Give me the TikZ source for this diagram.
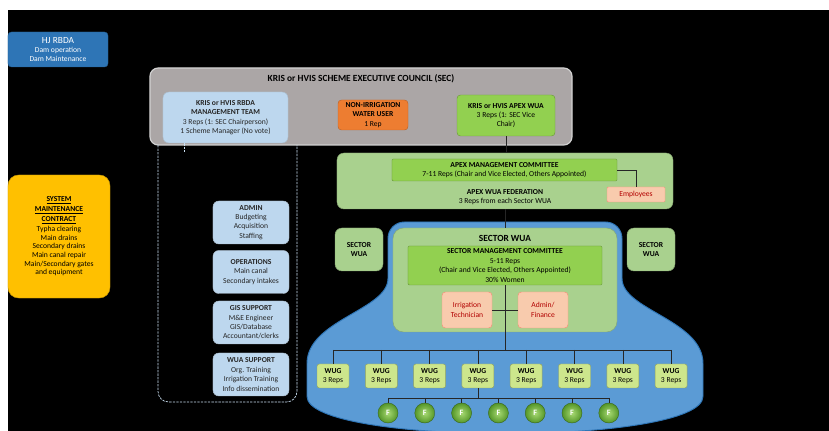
\documentclass[tikz,border=0pt]{standalone}
\usepackage{fontspec}
\setmainfont{Carlito}
\usepackage{tikz}
\usetikzlibrary{positioning, calc}
\definecolor{hjblue}{RGB}{46,117,182}
\definecolor{secgray}{RGB}{171,166,166}
\definecolor{teamblue}{RGB}{189,215,238}
\definecolor{userorange}{RGB}{237,125,49}
\definecolor{wuagreen}{RGB}{146,208,80}
\definecolor{fedgreen}{RGB}{169,209,142}
\definecolor{staffpink}{RGB}{248,203,173}
\definecolor{contractyellow}{RGB}{255,192,0}
\definecolor{basinblue}{RGB}{91,155,213}
\definecolor{wuggreen}{RGB}{205,230,140}
\definecolor{farmgreen}{RGB}{84,150,40}

\begin{document}
\begin{tikzpicture}[x=0.03cm, y=-0.03cm,
    every node/.style={font=\fontsize{6.5}{8}\selectfont, align=center, inner sep=1pt},
    box/.style={draw, rounded corners=3pt, line width=0.4pt},
    teambox/.style={box, fill=teamblue, draw=teamblue!70!gray, rounded corners=5pt, text=black!85},
    greenbox/.style={box, fill=fedgreen, draw=fedgreen!80!black, rounded corners=6pt},
    pinkbox/.style={box, fill=staffpink, draw=staffpink!70!red, rounded corners=1pt, text=red!70!black},
    dashreg/.style={teamblue!80, line width=0.6pt, dash pattern=on 2pt off 1pt},
    link/.style={black!85, line width=0.5pt}]

% background
\fill[white] (0,0) rectangle (829,431);
\fill[black] (8,10) rectangle (829,431);
\useasboundingbox (0,0) rectangle (829,431);

% HJ RBDA
\node[box, fill=hjblue, draw=hjblue!80!black, text=white, minimum width=3cm, minimum height=1.05cm] (hj) at (58,49.5)
    {{\fontsize{8}{9}\selectfont HJ RBDA}\\Dam operation\\Dam Maintenance};

% Scheme executive council
\node[box, fill=secgray, draw=gray!35, line width=1pt, rounded corners=7pt, minimum width=12.66cm, minimum height=2.31cm] (sec) at (361,106.5) {};
\node[font=\bfseries\fontsize{8}{9}\selectfont] (sectitle) at (361,79) {KRIS or HVIS SCHEME EXECUTIVE COUNCIL (SEC)};
\node[teambox, minimum width=3.75cm, minimum height=1.53cm] (team) at (225.5,117.5)
    {\textbf{KRIS or HVIS RBDA}\\\textbf{MANAGEMENT TEAM}\\3 Reps (1: SEC Chairperson)\\1 Scheme Manager (No vote)};
\node[box, fill=userorange, draw=userorange!80!black, minimum width=2.1cm, minimum height=0.9cm] (nonirr) at (373,115)
    {\textbf{NON-IRRIGATION}\\\textbf{WATER USER}\\1 Rep};
\node[box, fill=wuagreen, draw=wuagreen!75!black, minimum width=2.94cm, minimum height=1.23cm] (apexwua) at (506,115.5)
    {\textbf{KRIS or HVIS APEX WUA}\\3 Reps (1: SEC Vice\\Chair)};

% RBDA units
\coordinate (teamtap) at (184,152);
\draw[dashreg] (team.south -| teamtap) -- (teamtap);
\draw[dashreg, rounded corners=9pt] (158,145) -- (158,402) -- (297,402) -- (297,145);
\node[teambox, minimum width=2.28cm, minimum height=1.29cm] (admin) at (251,222.5)
    {\textbf{ADMIN}\\Budgeting\\Acquisition\\Staffing};
\node[teambox, minimum width=2.28cm, minimum height=1.29cm] (ops) at (251,272)
    {\textbf{OPERATIONS}\\Main canal\\Secondary intakes};
\node[teambox, minimum width=2.28cm, minimum height=1.29cm] (gis) at (251,322.5)
    {\textbf{GIS SUPPORT}\\M\&E Engineer\\GIS/Database\\Accountant/clerks};
\node[teambox, minimum width=2.28cm, minimum height=1.29cm] (wuasup) at (251,374.5)
    {\textbf{WUA SUPPORT}\\Org. Training\\Irrigation Training\\Info dissemination};

% maintenance contract
\node[box, fill=contractyellow, draw=contractyellow!80!black, rounded corners=9pt, minimum width=3.06cm, minimum height=3.69cm,
    font=\fontsize{6.5}{7.4}\selectfont] (contract) at (59,236.5)
    {\textbf{\underline{SYSTEM}}\\[1pt]\textbf{\underline{MAINTENANCE}}\\[1pt]\textbf{\underline{CONTRACT}}\\[1pt]Typha clearing\\Main drains\\Secondary drains\\Main canal repair\\Main/Secondary gates\\and equipment};

% Apex federation
\node[greenbox, minimum width=10.08cm, minimum height=1.68cm] (fed) at (505,181) {};
\node[box, fill=wuagreen, draw=wuagreen!70!black, rounded corners=1pt, minimum width=6.75cm, minimum height=0.66cm] (apexcom) at (504.5,170)
    {\textbf{APEX MANAGEMENT COMMITTEE}\\7-11 Reps (Chair and Vice Elected, Others Appointed)};
\node (fedtitle) at (505,197) {\textbf{APEX WUA FEDERATION}\\3 Reps from each Sector WUA};
\node[pinkbox, minimum width=1.74cm, minimum height=0.45cm] (staff) at (636,194.5) {Employees};

% sector area
\filldraw[fill=basinblue, draw=hjblue, line width=0.8pt, rounded corners=14pt]
    (388,262) -- (388,222) -- (622,222) -- (622,262)
    .. controls (622,310) and (703,320) .. (703,380)
    .. controls (703,446) and (307,446) .. (307,380)
    .. controls (307,320) and (388,310) .. (388,262) -- cycle;
\node[greenbox, minimum width=1.44cm, minimum height=1.29cm] (sectorw) at (359,249.5) {\textbf{SECTOR}\\\textbf{WUA}};
\node[greenbox, minimum width=1.44cm, minimum height=1.29cm] (sectore) at (651,249.5) {\textbf{SECTOR}\\\textbf{WUA}};
\node[greenbox, rounded corners=9pt, minimum width=6.72cm, minimum height=3.12cm] (sector) at (505,280) {};
\node[font=\bfseries\fontsize{8}{9}\selectfont] (sectortitle) at (505,238) {SECTOR WUA};
\node[box, fill=wuagreen, draw=wuagreen!70!black, rounded corners=1pt, minimum width=5.82cm, minimum height=1.17cm] (sectorcom) at (505,265.5)
    {\textbf{SECTOR MANAGEMENT COMMITTEE}\\5-11 Reps\\(Chair and Vice Elected, Others Appointed)\\30\% Women};
\node[pinkbox, rounded corners=3pt, minimum width=1.5cm, minimum height=1.08cm] (tech) at (467,310) {Irrigation\\Technician};
\node[pinkbox, rounded corners=3pt, minimum width=1.5cm, minimum height=1.08cm] (finance) at (543,310) {Admin/\\Finance};

% water user groups and farmers
\foreach \i in {1,...,8} {
    \pgfmathsetmacro{\xpos}{333+48.3*(\i-1)}
    \node[box, fill=wuggreen, draw=wuggreen!70!black, rounded corners=2pt, minimum width=0.96cm, minimum height=0.72cm] (wug\i) at (\xpos,376)
        {\textbf{WUG}\\3 Reps};
}
\foreach \i in {1,...,7} {
    \pgfmathsetmacro{\xpos}{388+36.8*(\i-1)}
    \node[circle, draw=farmgreen!70!black, inner color=wuagreen!80!white, outer color=farmgreen, text=white,
        minimum size=0.6cm, font=\bfseries\fontsize{7}{8}\selectfont] (farm\i) at (\xpos,413) {F};
}

% connections
\draw[link] (apexwua.south) -- (fed.north -| apexwua.south);
\draw[link] (apexcom.east) -| (staff.north);
\draw[link] (fed.south) -- (sector.north);
\draw[link] (tech.east) -- (finance.west);
\coordinate (wugbus) at (505,350);
\draw[link] (sectorcom.south) -- (wugbus);
\draw[link] (wugbus -| wug1) -- (wugbus -| wug8);
\foreach \i in {1,...,8} {
    \draw[link] (wugbus -| wug\i) -- (wug\i.north);
}
\coordinate (fbus) at (480,398);
\draw[link] (wug4.south) -- (fbus -| wug4);
\draw[link] (fbus -| farm1) -- (fbus -| farm7);
\foreach \i in {1,...,7} {
    \draw[link] (fbus -| farm\i) -- (farm\i.north);
}
\end{tikzpicture}
\end{document}
